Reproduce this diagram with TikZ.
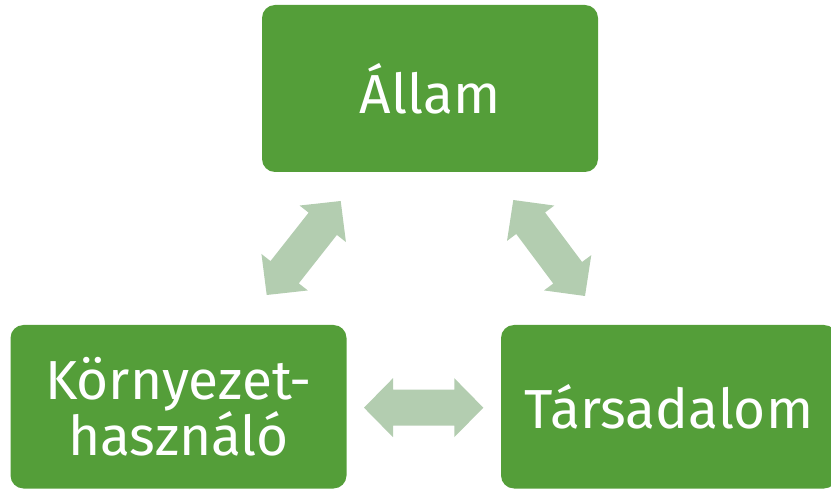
\documentclass[tikz,border=0pt]{standalone}
\usepackage{fontspec}
\setmainfont{Fira Sans}
\usetikzlibrary{calc}
\definecolor{boxgreen}{HTML}{549E39}
\definecolor{arrowgreen}{HTML}{B3CDB0}

\begin{document}
\begin{tikzpicture}[x=1pt,y=-1pt,
		greenbox/.style={fill=boxgreen, rounded corners=13pt, text=white, align=center,
			minimum width=336pt, inner sep=0pt, font=\fontsize{55}{54}\selectfont},
		arrowfill/.style={fill=arrowgreen}]
	\pgfmathsetmacro{\ShaftHalf}{18}
	\pgfmathsetmacro{\HeadHalf}{29.5}
	\pgfmathsetmacro{\HeadLength}{29}
	\useasboundingbox (0,0) rectangle (831,489);
	% BOXES
	\node[greenbox, minimum height=167pt] (allam) at (430,88.5) {Állam};
	\node[greenbox, minimum height=163.5pt] (kornyezet) at (178.5,406.75) {Környezet-\\használó};
	\node[greenbox, minimum height=163.5pt] (tarsadalom) at (669,406.75) {Társadalom};
	% ARROW ENDS
	\coordinate (kl) at (266.7,295);
	\coordinate (al) at (340.7,201);
	\coordinate (ar) at (513.3,200);
	\coordinate (tt) at (585,296);
	\coordinate (kr) at (364,407.7);
	\coordinate (tl) at (483.3,407.7);
	% DOUBLE ARROWS
	\foreach \A/\B in {kl/al, ar/tt, kr/tl} {
		\fill[arrowfill] (\A)
			-- ($(\A)!\HeadLength pt!(\B)!\HeadHalf pt!90:(\B)$)
			-- ($(\A)!\HeadLength pt!(\B)!\ShaftHalf pt!90:(\B)$)
			-- ($(\B)!\HeadLength pt!(\A)!\ShaftHalf pt!-90:(\A)$)
			-- ($(\B)!\HeadLength pt!(\A)!\HeadHalf pt!-90:(\A)$)
			-- (\B)
			-- ($(\B)!\HeadLength pt!(\A)!\HeadHalf pt!90:(\A)$)
			-- ($(\B)!\HeadLength pt!(\A)!\ShaftHalf pt!90:(\A)$)
			-- ($(\A)!\HeadLength pt!(\B)!\ShaftHalf pt!-90:(\B)$)
			-- ($(\A)!\HeadLength pt!(\B)!\HeadHalf pt!-90:(\B)$)
			-- cycle;
	}
\end{tikzpicture}
\end{document}
